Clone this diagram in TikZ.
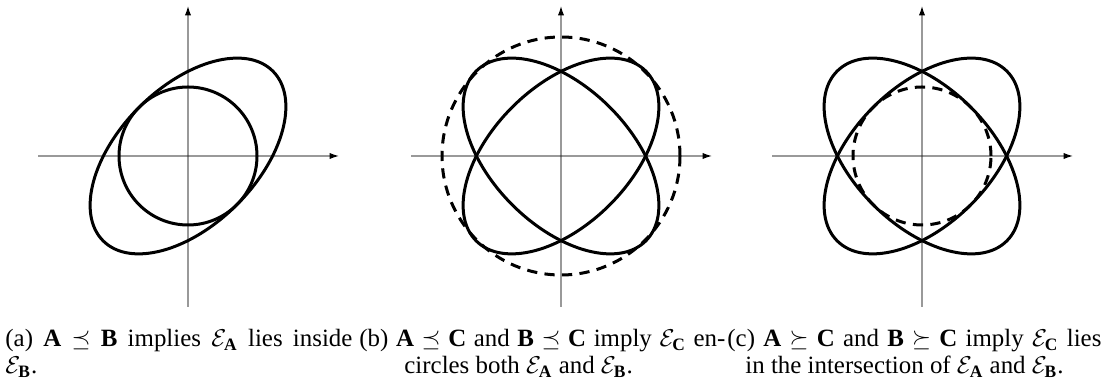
\documentclass[tikz,border=0pt]{standalone}
\usepackage{amsmath,amssymb}
\usepackage{fontspec}
\setmainfont{Liberation Serif}
\usetikzlibrary{arrows.meta}
\newlength\ux
\setlength\ux{0.45pt}
\begin{document}
\begin{tikzpicture}[x=0.45pt,y=0.45pt,
  axis/.style={draw=gray!80, line width=0.55pt, -{Latex[length=4.2pt,width=2.8pt,color=black]}},
  curve/.style={line width=1.35pt, black},
  dcurve/.style={curve, dash pattern=on 4.6pt off 3.3pt},
  captext/.style={anchor=base west, inner sep=0pt, font=\fontsize{11.2}{13.4}\selectfont}]
\useasboundingbox (0,0) rectangle (1106,385);
% axes
\foreach \cx/\nm in {188/a,561/b,922/c}{
  \coordinate (o\nm) at (\cx,229);
  \draw[axis] (\cx-150,229) -- (\cx+151,229);
  \draw[axis] (\cx,78) -- (\cx,379);
  \fill[black!70] (o\nm) circle [radius=1.2];
}
% panel (a)
\draw[curve] (oa) circle [radius=69];
\draw[curve, rotate around={45:(oa)}] (oa) ellipse [x radius=120, y radius=69];
% panel (b)
\draw[curve, rotate around={45:(ob)}] (ob) ellipse [x radius=120, y radius=69];
\draw[curve, rotate around={-45:(ob)}] (ob) ellipse [x radius=120, y radius=69];
\draw[dcurve] (ob) circle [radius=119];
% panel (c)
\draw[curve, rotate around={45:(oc)}] (oc) ellipse [x radius=120, y radius=69];
\draw[curve, rotate around={-45:(oc)}] (oc) ellipse [x radius=120, y radius=69];
\draw[dcurve] (oc) circle [radius=69];
% captions
\node[captext] (capa1) at (5,38) {\makebox[347\ux][s]{(a) \textbf{A} $\preceq$ \textbf{B} implies $\mathcal{E}_{\mathbf{A}}$ lies inside}};
\node[captext] (capa2) at (5,11) {$\mathcal{E}_{\mathbf{B}}$.};
\node[captext] (capb1) at (359,38) {\makebox[366\ux][s]{(b) \textbf{A} $\preceq$ \textbf{C} and \textbf{B} $\preceq$ \textbf{C} imply $\mathcal{E}_{\mathbf{C}}$ en-}};
\node[captext] (capb2) at (404,11) {circles both $\mathcal{E}_{\mathbf{A}}$ and $\mathcal{E}_{\mathbf{B}}$.};
\node[captext] (capc1) at (727,38) {\makebox[374\ux][s]{(c) \textbf{A} $\succeq$ \textbf{C} and \textbf{B} $\succeq$ \textbf{C} imply $\mathcal{E}_{\mathbf{C}}$ lies}};
\node[captext] (capc2) at (745,11) {in the intersection of $\mathcal{E}_{\mathbf{A}}$ and $\mathcal{E}_{\mathbf{B}}$.};
\end{tikzpicture}
\end{document}
